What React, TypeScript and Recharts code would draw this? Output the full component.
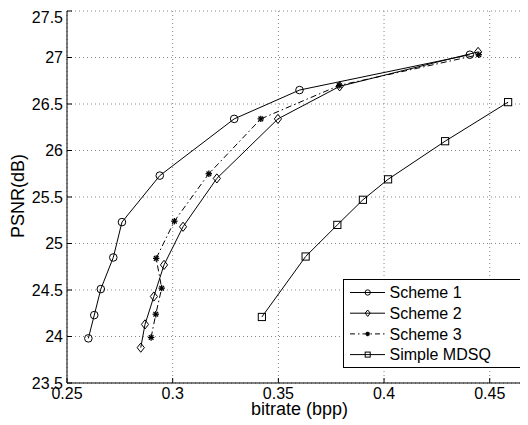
import { CartesianGrid, Line, LineChart, XAxis, YAxis } from "recharts";

// bitrate (bpp) and PSNR (dB), one pair of arrays per curve
const scheme1Rate = [0.2601, 0.2629, 0.266, 0.2719, 0.276, 0.2939, 0.3291, 0.36, 0.4406];
const scheme1Psnr = [23.98, 24.23, 24.51, 24.85, 25.23, 25.73, 26.34, 26.65, 27.03];

const scheme2Rate = [0.2849, 0.2869, 0.2911, 0.2959, 0.3049, 0.3209, 0.3498, 0.379, 0.4445];
const scheme2Psnr = [23.88, 24.13, 24.43, 24.77, 25.18, 25.7, 26.34, 26.69, 27.06];

const scheme3Rate = [0.2898, 0.292, 0.2948, 0.2922, 0.3008, 0.3171, 0.3417, 0.3788, 0.4448];
const scheme3Psnr = [23.99, 24.24, 24.52, 24.84, 25.24, 25.75, 26.34, 26.7, 27.03];

const mdsqRate = [0.3422, 0.3629, 0.3779, 0.39, 0.4019, 0.4289, 0.4587];
const mdsqPsnr = [24.21, 24.86, 25.2, 25.47, 25.69, 26.1, 26.52];

const xTicks = [0.25, 0.3, 0.35, 0.4, 0.45];
const yTicks = [23.5, 24, 24.5, 25, 25.5, 26, 26.5, 27, 27.5];

const toPoints = (rate: number[], psnr: number[]) =>
  rate.map((x, i) => ({ x, y: psnr[i] }));

const FONT = "'Liberation Sans', Arial, Helvetica, sans-serif";
const INK = "#000";

type MarkerKind = "circle" | "diamond" | "star" | "square";

function Marker({ kind, cx, cy, s = 1 }: { kind: MarkerKind; cx: number; cy: number; s?: number }) {
  if (cx == null || cy == null) return null;
  if (kind === "circle") {
    return <circle cx={cx} cy={cy} r={3.8 * s} fill="none" stroke={INK} strokeWidth={1} />;
  }
  if (kind === "diamond") {
    const w = 3.6 * s;
    const h = 4.6 * s;
    return (
      <polygon
        points={`${cx},${cy - h} ${cx + w},${cy} ${cx},${cy + h} ${cx - w},${cy}`}
        fill="none"
        stroke={INK}
        strokeWidth={1}
      />
    );
  }
  if (kind === "square") {
    const a = 3.6 * s;
    return <rect x={cx - a} y={cy - a} width={2 * a} height={2 * a} fill="none" stroke={INK} strokeWidth={1} />;
  }
  const r = 3.2 * s;
  const d = r * 0.72;
  return (
    <g stroke={INK} strokeWidth={1.3}>
      <line x1={cx - r} y1={cy} x2={cx + r} y2={cy} />
      <line x1={cx} y1={cy - r} x2={cx} y2={cy + r} />
      <line x1={cx - d} y1={cy - d} x2={cx + d} y2={cy + d} />
      <line x1={cx - d} y1={cy + d} x2={cx + d} y2={cy - d} />
    </g>
  );
}

const series = [
  { name: "Scheme 1", kind: "circle" as MarkerKind, dash: undefined, data: toPoints(scheme1Rate, scheme1Psnr) },
  { name: "Scheme 2", kind: "diamond" as MarkerKind, dash: undefined, data: toPoints(scheme2Rate, scheme2Psnr) },
  { name: "Scheme 3", kind: "star" as MarkerKind, dash: "6 3 1.5 3", data: toPoints(scheme3Rate, scheme3Psnr) },
  { name: "Simple MDSQ", kind: "square" as MarkerKind, dash: undefined, data: toPoints(mdsqRate, mdsqPsnr) },
];

function LegendBox() {
  return (
    <svg width={184} height={89} style={{ display: "block" }}>
      <rect x={0.5} y={0.5} width={183} height={88} fill="#fff" stroke={INK} strokeWidth={1} />
      {series.map((s, i) => {
        const cy = 13.5 + i * 20.7;
        return (
          <g key={s.name}>
            <line x1={7} y1={cy} x2={42} y2={cy} stroke={INK} strokeWidth={1} strokeDasharray={s.dash ? "5 3 1.5 3" : undefined} />
            <Marker kind={s.kind} cx={24.7} cy={cy} s={0.7} />
            <text x={46.5} y={cy + 5.7} fontSize={16} fontFamily={FONT} fill={INK}>
              {s.name}
            </text>
          </g>
        );
      })}
    </svg>
  );
}

export default function App() {
  return (
    <div style={{ position: "relative", width: 520, height: 417, overflow: "hidden", fontFamily: FONT }}>
      <LineChart width={524} height={417} margin={{ top: 3, right: 0, bottom: 0, left: 0 }}>
        <CartesianGrid stroke="#888" strokeDasharray="1 3" />
        <XAxis
          dataKey="x"
          type="number"
          domain={[0.25, 0.47]}
          ticks={xTicks}
          allowDataOverflow
          height={42}
          axisLine={{ stroke: INK }}
          tickLine={{ stroke: INK }}
          tickSize={-5}
          tickMargin={10}
          tick={{ fontSize: 16, fill: INK, fontFamily: FONT }}
          label={{
            content: (p: any) => {
              const vb = p.viewBox;
              return (
                <text x={vb.x + vb.width / 2} y={vb.y + 32} textAnchor="middle" fontSize={18} fontFamily={FONT} fill={INK}>
                  bitrate (bpp)
                </text>
              );
            },
          }}
        />
        <XAxis
          xAxisId="top"
          orientation="top"
          dataKey="x"
          type="number"
          domain={[0.25, 0.47]}
          ticks={xTicks}
          allowDataOverflow
          height={0}
          mirror
          axisLine={{ stroke: INK }}
          tickLine={{ stroke: INK }}
          tickSize={5}
          tickFormatter={() => ""}
        />
        <YAxis
          type="number"
          domain={[23.5, 27.5]}
          ticks={yTicks}
          allowDataOverflow
          width={59}
          axisLine={{ stroke: INK }}
          tickLine={{ stroke: INK }}
          tickSize={-5}
          tickMargin={9}
          tick={{ fontSize: 16, fill: INK, fontFamily: FONT }}
          label={{
            content: (p: any) => {
              const vb = p.viewBox;
              const x = vb.x + 16;
              const y = vb.y + vb.height / 2 - 1;
              return (
                <text x={x} y={y} textAnchor="middle" fontSize={18} fontFamily={FONT} fill={INK} transform={`rotate(-90 ${x} ${y})`}>
                  PSNR(dB)
                </text>
              );
            },
          }}
        />
        {series.map((s) => (
          <Line
            key={s.name}
            data={s.data}
            dataKey="y"
            name={s.name}
            type="linear"
            stroke={INK}
            strokeWidth={1}
            strokeDasharray={s.dash}
            isAnimationActive={false}
            activeDot={false}
            dot={(p: any) => <Marker key={`${s.name}-${p.index}`} kind={s.kind} cx={p.cx} cy={p.cy} />}
          />
        ))}
      </LineChart>
      <div style={{ position: "absolute", left: 335, top: 271 }}>
        <LegendBox />
      </div>
    </div>
  );
}
